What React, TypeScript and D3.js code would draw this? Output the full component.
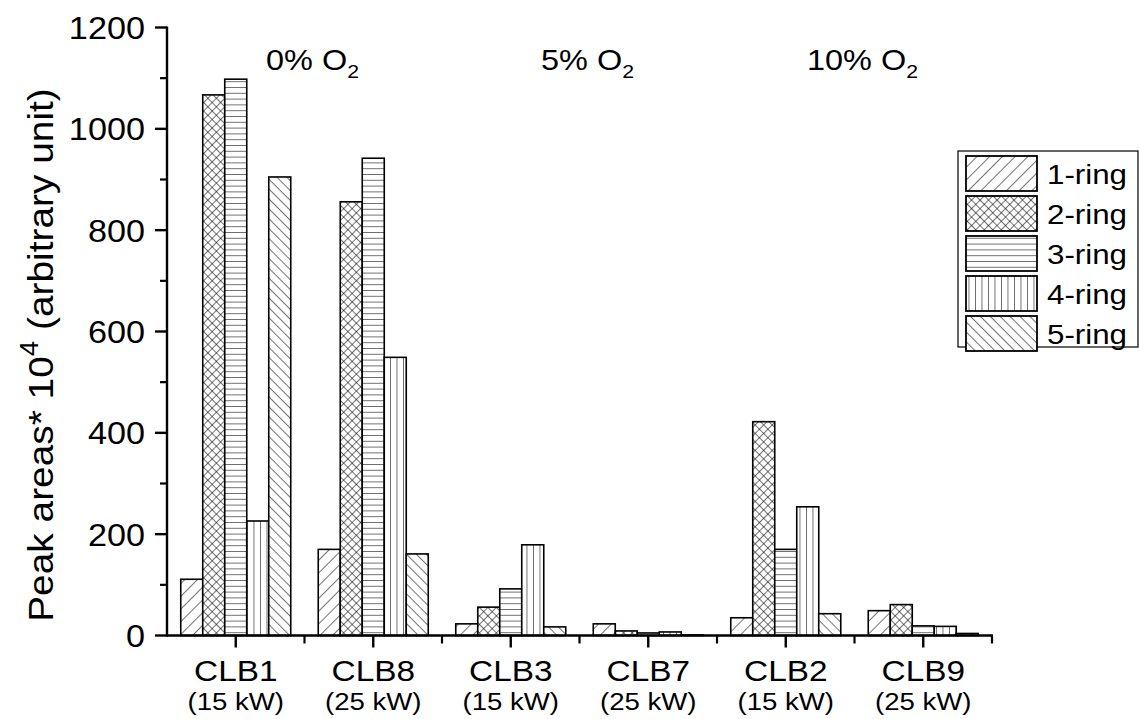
import React from "react";
import * as d3 from "d3";

const categories = ["CLB1", "CLB8", "CLB3", "CLB7", "CLB2", "CLB9"];
const powerLabels = ["(15 kW)", "(25 kW)", "(15 kW)", "(25 kW)", "(15 kW)", "(25 kW)"];
const seriesNames = ["1-ring", "2-ring", "3-ring", "4-ring", "5-ring"];
const ring1 = [111, 170, 23, 23, 35, 49];
const ring2 = [1067, 856, 56, 9, 422, 61];
const ring3 = [1098, 942, 92, 5, 170, 19];
const ring4 = [226, 549, 179, 7, 254, 18];
const ring5 = [905, 161, 17, 1, 43, 4];
const seriesValues = [ring1, ring2, ring3, ring4, ring5];
const yTicks = [0, 200, 400, 600, 800, 1000, 1200];
const yMinorTicks = [100, 300, 500, 700, 900, 1100];
const oxygenGroups = [
  { label: "0%", center: 1.5 },
  { label: "5%", center: 3.5 },
  { label: "10%", center: 5.5 },
];

const FONT = "'Liberation Sans', Arial, sans-serif";
const W = 1139;
const H = 719;
const left = 167;
const right = 992;
const top = 27.5;
const bottom = 635.5;

const patternIds = ["p-diag", "p-cross", "p-horiz", "p-vert", "p-back"];

// Text drawn with a slight horizontal stretch, as in the typeset figure
function T(props: {
  x: number;
  y: number;
  size: number;
  sx?: number;
  anchor?: "start" | "middle" | "end";
  dy?: string;
  children: React.ReactNode;
}) {
  const { x, y, size, sx = 1, anchor = "start", dy, children } = props;
  return (
    <text
      transform={`translate(${x},${y}) scale(${sx},1)`}
      textAnchor={anchor}
      dy={dy}
      fontFamily={FONT}
      fontSize={size}
    >
      {children}
    </text>
  );
}

export default function App() {
  const x = d3.scaleLinear().domain([0.5, 6.5]).range([left, right]);
  const y = d3.scaleLinear().domain([0, 1200]).range([bottom, top]);
  const step = x(2) - x(1);
  const groupW = step * 0.8;
  const barW = groupW / seriesNames.length;

  const bars: JSX.Element[] = [];
  seriesValues.forEach((vals, s) => {
    vals.forEach((v, i) => {
      const x0 = x(i + 1) - groupW / 2 + s * barW;
      bars.push(
        <rect
          key={`b-${s}-${i}`}
          x={x0}
          y={y(v)}
          width={barW}
          height={y(0) - y(v)}
          fill={`url(#${patternIds[s]})`}
          stroke="#000"
          strokeWidth={1.6}
        />
      );
    });
  });

  const legendX = 958;
  const legendY = 151;
  const rowH = 40;

  return (
    <svg width={W} height={H} style={{ display: "block", position: "absolute", left: 0, top: 0 }}>
      <defs>
        <pattern id="p-diag" patternUnits="userSpaceOnUse" width={9} height={9} patternTransform="rotate(45)">
          <rect width={9} height={9} fill="#fff" />
          <line x1={0} y1={0} x2={0} y2={9} stroke="#000" strokeWidth={1.1} />
        </pattern>
        <pattern id="p-back" patternUnits="userSpaceOnUse" width={7} height={7} patternTransform="rotate(-45)">
          <rect width={7} height={7} fill="#fff" />
          <line x1={0} y1={0} x2={0} y2={7} stroke="#000" strokeWidth={1.1} />
        </pattern>
        <pattern id="p-cross" patternUnits="userSpaceOnUse" width={6} height={6} patternTransform="rotate(45)">
          <rect width={6} height={6} fill="#fff" />
          <line x1={0} y1={0} x2={0} y2={6} stroke="#000" strokeWidth={1.1} />
          <line x1={0} y1={0} x2={6} y2={0} stroke="#000" strokeWidth={1.1} />
        </pattern>
        <pattern id="p-horiz" patternUnits="userSpaceOnUse" width={8} height={5.8}>
          <rect width={8} height={5.8} fill="#fff" />
          <line x1={0} y1={0} x2={8} y2={0} stroke="#000" strokeWidth={1.1} />
        </pattern>
        <pattern id="p-vert" patternUnits="userSpaceOnUse" width={6.5} height={8}>
          <rect width={6.5} height={8} fill="#fff" />
          <line x1={0} y1={0} x2={0} y2={8} stroke="#000" strokeWidth={1.1} />
        </pattern>
      </defs>
      <rect width={W} height={H} fill="#fff" />

      {bars}

      {/* y axis */}
      <line x1={left} y1={top - 1} x2={left} y2={bottom + 1} stroke="#000" strokeWidth={2.4} />
      {yTicks.map((t) => (
        <g key={`yt-${t}`}>
          <line x1={left - 12} x2={left} y1={y(t)} y2={y(t)} stroke="#000" strokeWidth={2.4} />
          <T x={left - 22} y={y(t)} dy="0.36em" anchor="end" size={32} sx={1.07}>
            {t}
          </T>
        </g>
      ))}
      {yMinorTicks.map((t) => (
        <line key={`ym-${t}`} x1={left - 7} x2={left} y1={y(t)} y2={y(t)} stroke="#000" strokeWidth={2.2} />
      ))}

      {/* x axis */}
      <line x1={left - 1} y1={bottom} x2={right + 1} y2={bottom} stroke="#000" strokeWidth={2.4} />
      {categories.map((c, i) => (
        <g key={`xt-${c}`}>
          <line x1={x(i + 1)} x2={x(i + 1)} y1={bottom} y2={bottom + 12} stroke="#000" strokeWidth={2.4} />
          <T x={x(i + 1)} y={681} anchor="middle" size={29} sx={1.15}>
            {c}
          </T>
          <T x={x(i + 1)} y={710} anchor="middle" size={24} sx={1.15}>
            {powerLabels[i]}
          </T>
        </g>
      ))}
      {d3.range(1, 7).map((k) => (
        <line key={`xm-${k}`} x1={x(k + 0.5)} x2={x(k + 0.5)} y1={bottom} y2={bottom + 8} stroke="#000" strokeWidth={2.2} />
      ))}

      {/* oxygen level annotations */}
      {oxygenGroups.map((g) => (
        <T key={g.label} x={x(g.center) + 8} y={70} anchor="middle" size={29} sx={1.12}>
          {g.label} O
          <tspan fontSize={19} dy={8}>2</tspan>
        </T>
      ))}

      {/* y axis title */}
      <text
        transform={`translate(53, 355) rotate(-90) scale(1.11,1)`}
        textAnchor="middle"
        fontFamily={FONT}
        fontSize={35}
      >
        Peak areas* 10
        <tspan fontSize={25} dy={-15}>4</tspan>
        <tspan dy={15}> (arbitrary unit)</tspan>
      </text>

      {/* legend */}
      <rect x={legendX} y={legendY} width={W - legendX - 1} height={196} fill="#fff" stroke="#000" strokeWidth={1.2} />
      {seriesNames.map((n, s) => (
        <g key={`lg-${n}`}>
          <rect
            x={legendX + 8}
            y={legendY + 5 + s * rowH}
            width={71}
            height={35}
            fill={`url(#${patternIds[s]})`}
            stroke="#000"
            strokeWidth={1.8}
          />
          <T x={legendX + 89} y={legendY + 5 + s * rowH + 18} dy="0.36em" size={27} sx={1.16}>
            {n}
          </T>
        </g>
      ))}
    </svg>
  );
}
